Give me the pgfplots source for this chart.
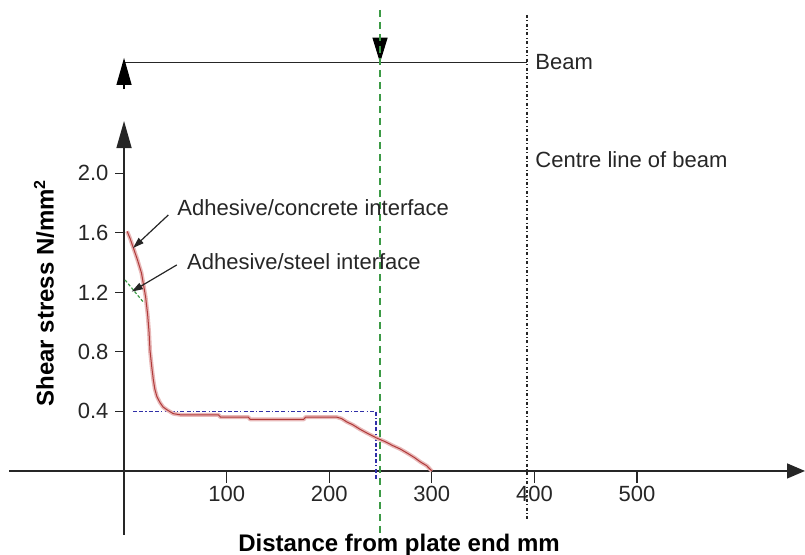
\documentclass[border=0pt]{standalone}
\usepackage{fontspec}
\setmainfont{Liberation Sans}
\usepackage{pgfplots}
\usepackage{pgfplotstable}
\pgfplotsset{compat=1.18}
\usetikzlibrary{arrows.meta}

\definecolor{stresscore}{HTML}{B03A3A}
\definecolor{stresshalo}{HTML}{E8B8B8}
\definecolor{steelgreen}{HTML}{3C9A46}
\definecolor{avgblue}{HTML}{3030A8}

% adhesive/concrete interface shear stress
\pgfplotstableread{
x y
3 1.61
6 1.56
9 1.50
13 1.42
17 1.33
19 1.25
21 1.17
23 1.05
24.4 0.93
25.3 0.81
27 0.70
28.6 0.61
30 0.55
32 0.50
35 0.46
38 0.43
42 0.41
48 0.385
55 0.377
92 0.377
94 0.362
121 0.362
123 0.346
175 0.346
177 0.362
207 0.362
212 0.352
217 0.330
223 0.310
230 0.280
238 0.250
246 0.222
255 0.195
262 0.170
269 0.148
276 0.120
283 0.090
289 0.060
295 0.035
300 0
}\concretedata

\begin{document}
\begin{tikzpicture}
\begin{axis}[
    x=0.513pt, y=74.425pt,
    xmin=-112, xmax=663.7,
    ymin=-0.43, ymax=2.351,
    axis lines=middle,
    axis line style={line width=0.75pt, black!85},
    x axis line style={-{Triangle[length=9pt,width=7.5pt]}},
    y axis line style={-{Triangle[length=13.5pt,width=7.5pt]}},
    tick align=outside,
    tick style={line width=0.6pt, black!85},
    x tick style={/pgfplots/major tick length=6pt},
    y tick style={/pgfplots/major tick length=4.5pt},
    xtick={100,200,300,400,500},
    ytick={0.4,0.8,1.2,1.6,2.0},
    yticklabel style={/pgf/number format/.cd, fixed, fixed zerofill, precision=1},
    /pgf/number format/assume math mode=true,
    ticklabel style={font=\fontsize{11}{13}\selectfont, black!85},
    clip=false,
]
% beam and its supports
\draw[line width=0.6pt, black!85] (axis cs:0,2.743) -- (axis cs:392.8,2.743);
\draw[line width=0.6pt, black, -{Triangle[length=13.5pt,width=7.5pt]}] (axis cs:0,2.566) -- (axis cs:0,2.775);
\draw[line width=0.6pt, black, -{Triangle[length=12.5pt,width=7.5pt]}] (axis cs:249.5,2.916) -- (axis cs:249.5,2.743);
\draw[steelgreen, line width=0.75pt, dash pattern=on 3.5pt off 2.5pt] (axis cs:249.5,3.097) -- (axis cs:249.5,-0.497);
\draw[black!85, line width=0.6pt, dash pattern=on 1.5pt off 1.2pt on 0.5pt off 1.2pt] (axis cs:392.8,3.064) -- (axis cs:392.8,-0.329);

% average stress block
\addplot[avgblue, line width=0.9pt, dash pattern=on 2pt off 1.1pt on 2pt off 1.1pt on 0.6pt off 1.1pt]
    coordinates {(8.8,0.4)(245.6,0.4)(245.6,-0.06)};

% stress curves
\addplot[stresshalo, line width=2pt, line join=round] table {\concretedata};
\addplot[stresscore, line width=0.5pt] table {\concretedata};
\addplot[steelgreen, line width=0.6pt, dash pattern=on 1.5pt off 1pt]
    coordinates {(1,1.283)(18.5,1.137)};

% annotations
\draw[black!85, line width=0.6pt, -{Triangle[length=5.5pt,width=3.5pt]}] (axis cs:43.2,1.720) -- (axis cs:8.8,1.498);
\draw[black!85, line width=0.6pt, -{Triangle[length=5.5pt,width=3.5pt]}] (axis cs:51.4,1.384) -- (axis cs:7.5,1.205);
\node[anchor=west, inner sep=0pt, font=\fontsize{11}{13}\selectfont, black!85] at (axis cs:51.7,1.767) {Adhesive/concrete interface};
\node[anchor=west, inner sep=0pt, font=\fontsize{11}{13}\selectfont, black!85] at (axis cs:61.1,1.406) {Adhesive/steel interface};
\node[anchor=west, inner sep=0pt, font=\fontsize{11}{13}\selectfont, black!85] at (axis cs:400.6,2.748) {Beam};
\node[anchor=west, inner sep=0pt, font=\fontsize{11}{13}\selectfont, black!85] at (axis cs:400.6,2.089) {Centre line of beam};

% axis titles
\node[rotate=90, font=\bfseries\fontsize{12}{14}\selectfont] at (axis cs:-78,1.196) {Shear stress N/mm\textsuperscript{2}};
\node[font=\bfseries\fontsize{12}{14}\selectfont] at (axis cs:268,-0.497) {Distance from plate end mm};

\coordinate (bbll) at (axis cs:-120.9,-0.564);
\coordinate (bbur) at (axis cs:663.7,3.164);
\end{axis}
\pgfresetboundingbox
\path[use as bounding box] (bbll) rectangle (bbur);
\end{tikzpicture}
\end{document}
